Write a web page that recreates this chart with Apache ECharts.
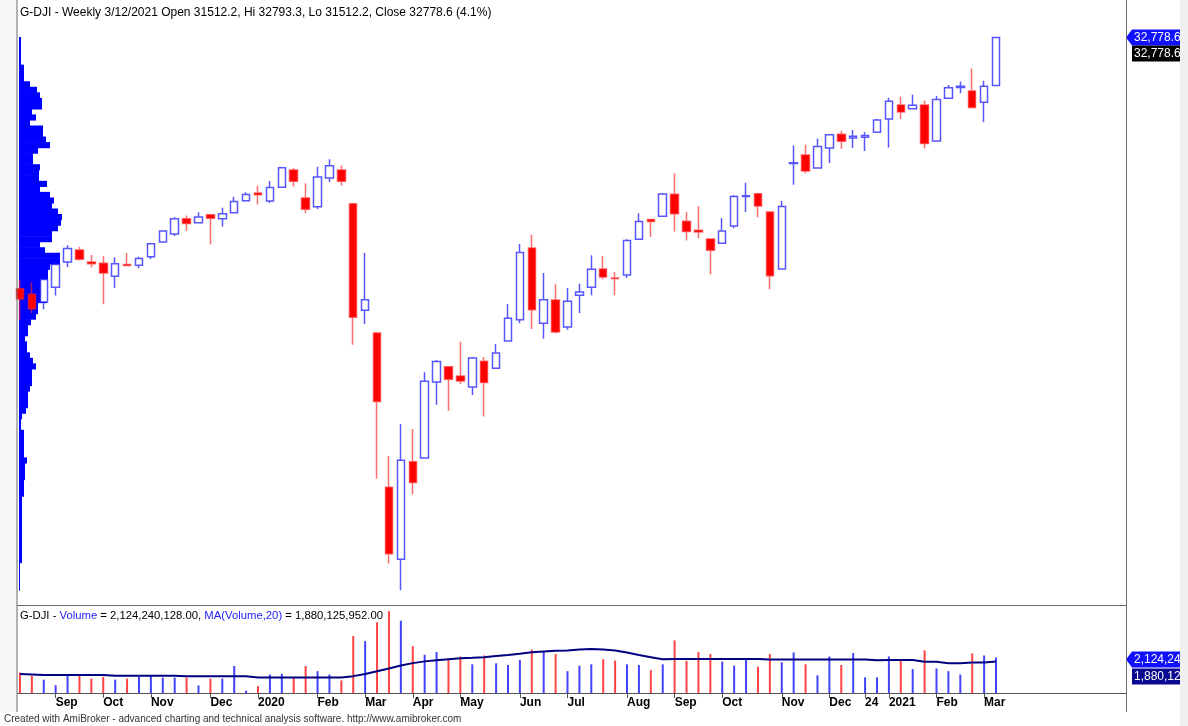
<!DOCTYPE html>
<html>
<head>
<meta charset="utf-8">
<title>G-DJI Weekly</title>
<script src="https://cdn.jsdelivr.net/npm/echarts@6/dist/echarts.min.js"></script>
<style>
  html, body { margin: 0; padding: 0; background: #fff; }
  #main { width: 1188px; height: 726px; }
</style>
</head>
<body>
<div id="main"></div>
<script>
// weekly bars, G-DJI, 8/16/2019 .. 3/12/2021
const weeks = [
  '8/16/2019', '8/23/2019', '8/30/2019', '9/6/2019', '9/13/2019', '9/20/2019', '9/27/2019', '10/4/2019', '10/11/2019', '10/18/2019',
  '10/25/2019', '11/1/2019', '11/8/2019', '11/15/2019', '11/22/2019', '11/29/2019', '12/6/2019', '12/13/2019', '12/20/2019', '12/27/2019',
  '1/3/2020', '1/10/2020', '1/17/2020', '1/24/2020', '1/31/2020', '2/7/2020', '2/14/2020', '2/21/2020', '2/28/2020', '3/6/2020',
  '3/13/2020', '3/20/2020', '3/27/2020', '4/3/2020', '4/9/2020', '4/17/2020', '4/24/2020', '5/1/2020', '5/8/2020', '5/15/2020',
  '5/22/2020', '5/29/2020', '6/5/2020', '6/12/2020', '6/19/2020', '6/26/2020', '7/2/2020', '7/10/2020', '7/17/2020', '7/24/2020',
  '7/31/2020', '8/7/2020', '8/14/2020', '8/21/2020', '8/28/2020', '9/4/2020', '9/11/2020', '9/18/2020', '9/25/2020', '10/2/2020',
  '10/9/2020', '10/16/2020', '10/23/2020', '10/30/2020', '11/6/2020', '11/13/2020', '11/20/2020', '11/27/2020', '12/4/2020', '12/11/2020',
  '12/18/2020', '12/24/2020', '12/31/2020', '1/8/2021', '1/15/2021', '1/22/2021', '1/29/2021', '2/5/2021', '2/12/2021', '2/19/2021',
  '2/26/2021', '3/5/2021', '3/12/2021'
];

const opens = [
  26160, 26010, 25810, 26200, 26860, 27180, 26860, 26830, 26490, 26800,
  26780, 27000, 27390, 27600, 28000, 27900, 28110, 28000, 28160, 28480,
  28680, 28470, 28830, 29290, 28550, 28320, 29080, 29290, 28400, 25590,
  24990, 20930, 19030, 21600, 21700, 23700, 24100, 23860, 23570, 24250,
  24060, 24780, 25340, 27230, 25250, 25860, 25150, 25990, 26200, 26680,
  26440, 26520, 27460, 27980, 28070, 28650, 27940, 27700, 27470, 27360,
  27810, 28590, 28660, 28180, 26680, 29460, 29680, 29340, 29870, 30230,
  30130, 30150, 30280, 30630, 31000, 30900, 31000, 30050, 31180, 31460,
  31370, 31070, 31512.2
];
const highs = [
  26390, 26330, 26420, 26860, 27306, 27260, 27050, 27020, 26990, 27100,
  27000, 27370, 27700, 28040, 28090, 28175, 28130, 28290, 28582, 28700,
  28872, 28995, 29374, 29340, 28940, 29373, 29568, 29400, 28400, 27102,
  25020, 21750, 22595, 22460, 23960, 24280, 24110, 24764, 24360, 24360,
  24700, 25758, 27340, 27580, 26570, 26280, 26180, 26290, 27040, 27020,
  26600, 27460, 28150, 27990, 28680, 29199, 28180, 28340, 27470, 28020,
  28630, 28950, 28690, 28180, 28470, 29933, 29950, 30117, 30230, 30320,
  30340, 30290, 30630, 31193, 31220, 31272, 31110, 31240, 31530, 31620,
  31961, 31640, 32793.3
];
const lows = [
  25340, 25520, 25620, 25980, 26730, 26900, 26720, 25750, 26180, 26750,
  26700, 26940, 27380, 27550, 27680, 27880, 27325, 27800, 28150, 28480,
  28376, 28418, 28820, 28860, 28150, 28260, 28970, 28880, 24681, 25226,
  21154, 18917, 18214, 20735, 21690, 23100, 22941, 23640, 23360, 22790,
  24040, 24770, 25250, 25100, 24843, 24980, 25080, 25520, 25990, 26410,
  25990, 26440, 27450, 27520, 28050, 27664, 27430, 27490, 26537, 27350,
  27750, 28180, 28040, 26143, 26670, 28900, 29200, 29330, 29470, 29840,
  29870, 29790, 30270, 29881, 30630, 30880, 29856, 30030, 31160, 31310,
  30920, 30547, 31512.2
];
const closes = [
  25886, 25629, 26403, 26797, 27219, 26935, 26820, 26574, 26817, 26770,
  26958, 27347, 27681, 28005, 27876, 28051, 28015, 28135, 28455, 28645,
  28635, 28824, 29348, 28990, 28256, 29102, 29398, 28992, 25409, 25865,
  23186, 19174, 21637, 21053, 23719, 24242, 23775, 23724, 24331, 23685,
  24465, 25383, 27111, 25605, 25871, 25016, 25827, 26075, 26672, 26470,
  26428, 27433, 27931, 27930, 28654, 28133, 27666, 27657, 27174, 27682,
  28587, 28606, 28336, 26502, 28323, 29480, 29263, 29910, 30218, 30046,
  30179, 30200, 30606, 31098, 30814, 30997, 29983, 31148, 31458, 31494,
  30932, 31496, 32778.6
];

// volume, millions of shares
const volumes = [
  1224, 1020, 796, 469, 1020, 1122, 857, 959, 796, 857,
  959, 1020, 918, 918, 918, 449, 857, 857, 1612, 143,
  408, 1102, 1142, 959, 1612, 1306, 1102, 755, 3407, 3101,
  4223, 4896, 4325, 2795, 2285, 2448, 2040, 2183, 1714, 2244,
  1775, 1673, 1979, 2591, 2489, 2326, 1306, 1632, 1714, 2020,
  1938, 1714, 1673, 1367, 1714, 3142, 1918, 2448, 2326, 1877,
  1632, 2081, 1571, 2326, 1836, 2428, 1714, 1061, 2183, 1673,
  2387, 938, 938, 2183, 1979, 1428, 2550, 1469, 1306, 1102,
  2366, 2244, 2124.240128
];
// MA(Volume,20), millions
const volumeMA = [
  1134, 1113, 1071, 1071, 1071, 1071, 1071, 1071, 1029, 1029,
  1029, 1029, 1029, 1029, 1008, 1008, 1008, 1008, 1008, 1008,
  924, 924, 924, 924, 924, 924, 924, 924, 1008, 1134,
  1302, 1470, 1638, 1785, 1890, 1953, 2016, 2079, 2100, 2142,
  2205, 2268, 2352, 2436, 2478, 2520, 2541, 2604, 2625, 2604,
  2541, 2415, 2268, 2142, 2016, 2037, 2037, 2037, 2037, 2037,
  2037, 2037, 2037, 1995, 1995, 1995, 1995, 1995, 1995, 1995,
  1995, 1995, 1953, 1974, 1974, 1974, 1869, 1869, 1785, 1785,
  1827, 1827, 1880.125952
];

const tickIdx = [3, 7, 11, 16, 20, 25, 29, 33, 37, 42, 46, 51, 55, 59, 64, 68, 71, 73, 77, 81];
const tickText = ['Sep', 'Oct', 'Nov', 'Dec', '2020', 'Feb', 'Mar', 'Apr', 'May', 'Jun', 'Jul',
  'Aug', 'Sep', 'Oct', 'Nov', 'Dec', '24', '2021', 'Feb', 'Mar'];

// volume-at-price profile, 100 bins from the high down to the low (relative units)
const vapProfile = [
  2, 2, 2, 2, 2, 5, 5, 5, 11, 18,
  21, 23, 23, 13, 17, 11, 24, 24, 27, 31,
  19, 14, 14, 21, 20, 20, 28, 21, 31, 35,
  33, 39, 43, 42, 39, 33, 33, 21, 26, 41,
  41, 31, 29, 29, 28, 28, 28, 28, 19, 19,
  17, 12, 9, 9, 6, 8, 8, 11, 14, 17,
  13, 13, 13, 11, 9, 9, 9, 7, 3, 2,
  2, 5, 5, 5, 5, 5, 8, 6, 6, 6,
  5, 5, 5, 3, 3, 3, 3, 3, 3, 3,
  3, 3, 3, 3, 3, 1, 1, 1, 1, 1
];

const FONT = 'Arial, "Liberation Sans", sans-serif'
const last = weeks.length - 1
const padWeeks = 10 // empty bars at the right edge, like the AmiBroker view
const axisCats = weeks.concat(new Array(padWeeks).fill(''))

const candleData = weeks.map((w, i) => [opens[i], closes[i], lows[i], highs[i]])
const volData = volumes.map((v, i) => ({
  value: v,
  itemStyle: { color: closes[i] >= opens[i] ? 'rgba(20,20,255,0.8)' : 'rgba(255,20,20,0.8)' }
}))

const hi = Math.max(...highs)
const lo = Math.min(...lows)
const step = (hi - lo) / vapProfile.length
const vapData = vapProfile.map((w, k) => [hi - (k + 1) * step, hi - k * step, w])

const fmt1 = v => v.toLocaleString('en-US', { minimumFractionDigits: 1, maximumFractionDigits: 1 })
const fmtVol = v => (v * 1e6).toLocaleString('en-US', { minimumFractionDigits: 2, maximumFractionDigits: 2 })
const pct = ((closes[last] / closes[last - 1] - 1) * 100).toFixed(1)

const mainTitle = 'G-DJI - Weekly ' + weeks[last] + ' Open ' + opens[last].toFixed(1) +
  ', Hi ' + highs[last].toFixed(1) + ', Lo ' + lows[last].toFixed(1) +
  ', Close ' + closes[last].toFixed(1) + ' (' + pct + '%)'
const volTitle = '{k|G-DJI - }{b|Volume}{k| = ' + fmtVol(volumes[last]) + ', }{b|MA(Volume,20)}{k| = ' +
  fmtVol(volumeMA[last]) + '}'

const isTick = idx => tickIdx.indexOf(idx) >= 0

const option = {
  animation: false,
  backgroundColor: '#ffffff',
  title: [
    {
      text: mainTitle, left: 20, top: 7, padding: 0,
      textStyle: { fontFamily: FONT, fontSize: 12, fontWeight: 'normal', color: '#000' }
    },
    {
      text: volTitle, left: 20, top: 610, padding: 0,
      textStyle: {
        fontFamily: FONT, fontSize: 11.3, fontWeight: 'normal',
        rich: {
          k: { fontFamily: FONT, fontSize: 11.3, color: '#000' },
          b: { fontFamily: FONT, fontSize: 11.3, color: '#2222ff' }
        }
      }
    }
  ],
  grid: [
    { left: 14, right: 67, top: 28, height: 576, outerBoundsMode: 'none' }, // price
    { left: 14, right: 67, top: 606, height: 87, outerBoundsMode: 'none' }, // volume
    { left: 19, right: 67, top: 28, height: 576, outerBoundsMode: 'none' } // volume-at-price
  ],
  xAxis: [
    { type: 'category', gridIndex: 0, data: axisCats, boundaryGap: true, show: false },
    {
      type: 'category', gridIndex: 1, data: axisCats, boundaryGap: true,
      axisLine: { show: false },
      axisTick: { show: true, alignWithLabel: true, length: 5, interval: isTick, lineStyle: { color: '#555' } },
      axisLabel: {
        interval: isTick, align: 'left', margin: 4,
        fontFamily: FONT, fontSize: 12, fontWeight: 'bold', color: '#000',
        formatter: (val, idx) => tickText[tickIdx.indexOf(idx)] || ''
      },
      splitLine: { show: false }
    },
    { type: 'value', gridIndex: 2, min: 0, max: 1102, show: false }
  ],
  yAxis: [
    { type: 'value', gridIndex: 0, min: 17850, max: 33030, show: false, scale: true },
    { type: 'value', gridIndex: 1, min: 0, max: 5200, show: false },
    { type: 'value', gridIndex: 2, min: 17850, max: 33030, show: false }
  ],
  series: [
    {
      name: 'VAP',
      type: 'custom',
      xAxisIndex: 2,
      yAxisIndex: 2,
      z: 1,
      encode: { x: 2, y: [0, 1] },
      data: vapData,
      renderItem: (params, api) => {
        const top = api.coord([0, api.value(1)])
        const bot = api.coord([api.value(2), api.value(0)])
        return {
          type: 'rect',
          shape: { x: top[0], y: top[1], width: bot[0] - top[0], height: bot[1] - top[1] + 0.6 },
          style: { fill: '#0000ff' }
        }
      }
    },
    {
      name: 'G-DJI',
      type: 'candlestick',
      xAxisIndex: 0,
      yAxisIndex: 0,
      z: 3,
      barWidth: 8,
      data: candleData,
      itemStyle: {
        color: '#ffffff',
        color0: '#ff0000',
        borderColor: 'rgba(30,30,255,0.75)',
        borderColor0: 'rgba(255,30,30,0.65)',
        borderColorDoji: 'rgba(30,30,255,0.8)',
        borderWidth: 1.5
      }
    },
    {
      name: 'Volume',
      type: 'bar',
      xAxisIndex: 1,
      yAxisIndex: 1,
      barWidth: 2,
      z: 2,
      data: volData
    },
    {
      name: 'MA(Volume,20)',
      type: 'line',
      xAxisIndex: 1,
      yAxisIndex: 1,
      z: 3,
      symbol: 'none',
      data: volumeMA,
      lineStyle: { color: '#000080', width: 2 }
    }
  ]
}

const chart = echarts.init(document.getElementById('main'))
chart.setOption(option)

// right-edge value tags, placed through the chart's own scales
const yClose = chart.convertToPixel({ xAxisIndex: 0, yAxisIndex: 0 }, [last, closes[last]])[1]
const yVol = chart.convertToPixel({ xAxisIndex: 1, yAxisIndex: 1 }, [last, volumes[last]])[1]

function arrowTag(y, text, fill) {
  return {
    type: 'group',
    z: 50,
    children: [
      {
        type: 'polygon',
        shape: { points: [[1126, y], [1132, y - 8], [1190, y - 8], [1190, y + 8], [1132, y + 8]] },
        style: { fill: fill }
      },
      {
        type: 'text', x: 1134, y: y,
        style: { text: text, fill: '#fff', font: '12px ' + FONT, verticalAlign: 'middle' }
      }
    ]
  }
}
function boxTag(y, text, fill) {
  return {
    type: 'group',
    z: 50,
    children: [
      { type: 'rect', shape: { x: 1132, y: y - 8, width: 58, height: 16 }, style: { fill: fill } },
      {
        type: 'text', x: 1134, y: y,
        style: { text: text, fill: '#fff', font: '12px ' + FONT, verticalAlign: 'middle' }
      }
    ]
  }
}

const line = (x1, y1, x2, y2, color) => ({
  type: 'line', z: 40, silent: true,
  shape: { x1: x1, y1: y1, x2: x2, y2: y2 },
  style: { stroke: color, lineWidth: 1 }
})

chart.setOption({
  graphic: [
    { type: 'rect', z: 0, shape: { x: 0, y: 0, width: 16.5, height: 712 }, style: { fill: '#f6f6f6' } },
    line(17, 0, 17, 712, '#6a6a6a'),
    line(1126.5, 0, 1126.5, 712, '#6a6a6a'),
    line(17, 605.5, 1126.5, 605.5, '#6a6a6a'),
    line(17, 693.5, 1126.5, 693.5, '#555555'),
    arrowTag(yClose, fmt1(closes[last]), '#1010ff'),
    boxTag(yClose + 16, fmt1(closes[last]), '#000000'),
    arrowTag(yVol + 2, Math.round(volumes[last] * 1e6).toLocaleString('en-US'), '#1010ff'),
    boxTag(yVol + 19, Math.round(volumeMA[last] * 1e6).toLocaleString('en-US'), '#0a0a90'),
    { type: 'rect', z: 60, shape: { x: 1180, y: 0, width: 8, height: 726 }, style: { fill: '#f0f0f0' } },
    {
      type: 'text', z: 60, x: 4, y: 719,
      style: {
        text: 'Created with AmiBroker - advanced charting and technical analysis software. http://www.amibroker.com',
        fill: '#333', font: '10px ' + FONT, verticalAlign: 'middle'
      }
    }
  ]
})
</script>
</body>
</html>
